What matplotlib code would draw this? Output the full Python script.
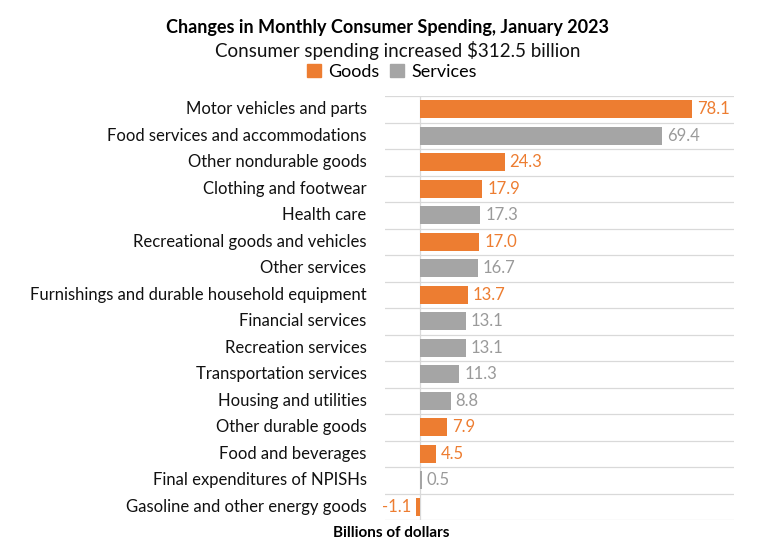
import matplotlib
matplotlib.use("Agg")
import matplotlib.pyplot as plt
from matplotlib.patches import Patch

categories = [
    "Motor vehicles and parts",
    "Food services and accommodations",
    "Other nondurable goods",
    "Clothing and footwear",
    "Health care",
    "Recreational goods and vehicles",
    "Other services",
    "Furnishings and durable household equipment",
    "Financial services",
    "Recreation services",
    "Transportation services",
    "Housing and utilities",
    "Other durable goods",
    "Food and beverages",
    "Final expenditures of NPISHs",
    "Gasoline and other energy goods",
]
values = [78.1, 69.4, 24.3, 17.9, 17.3, 17.0, 16.7, 13.7, 13.1, 13.1, 11.3, 8.8, 7.9, 4.5, 0.5, -1.1]
kinds = ["Goods", "Services", "Goods", "Goods", "Services", "Goods", "Services", "Goods",
         "Services", "Services", "Services", "Services", "Goods", "Goods", "Services", "Goods"]

colors = {"Goods": "#ED7D31", "Services": "#A5A5A5"}
label_colors = {"Goods": "#ED7D31", "Services": "#9A9A9A"}

plt.rcParams['font.family'] = ['Lato', 'DejaVu Sans']

fig = plt.figure(figsize=(7.6, 5.42), dpi=100)
ax = fig.add_axes([385/760, 1 - 520/542, (734-385)/760, (520-96)/542])

n = len(categories)
ys = list(range(n))
ax.barh(ys, values, height=0.68, color=[colors[k] for k in kinds], zorder=3)
ax.set_ylim(n - 0.5, -0.5)
ax.set_xlim(-10, 90)

for y, v, k in zip(ys, values, kinds):
    if v >= 0:
        ax.text(v + 1.4, y, f"{v:.1f}", va="center", ha="left", fontsize=12,
                color=label_colors[k])
    else:
        ax.text(v - 1.4, y, f"{v:.1f}", va="center", ha="right", fontsize=12,
                color=label_colors[k])

for b in range(n + 1):
    ax.axhline(b - 0.5, color="#D9D9D9", lw=0.9, zorder=1)
ax.axvline(0, color="#D9D9D9", lw=0.9, zorder=1)

for s in ax.spines.values():
    s.set_visible(False)
ax.set_xticks([])
ax.set_yticks([])

for y, c in zip(ys, categories):
    ax.text(-15.3, y, c, ha="right", va="center", fontsize=12, color="#111111")

fig.text(388/760, 1 - 28/542, "Changes in Monthly Consumer Spending, January 2023",
         ha="center", va="center", fontsize=13, fontweight="bold", color="#000000")
fig.text(398/760, 1 - 50/542, "Consumer spending increased $312.5 billion",
         ha="center", va="center", fontsize=13.5, color="#111111")
fig.legend(handles=[Patch(color=colors["Goods"], label="Goods"),
                    Patch(color=colors["Services"], label="Services")],
           loc="center", bbox_to_anchor=(392/760, 1 - 72/542), ncol=2, frameon=False,
           fontsize=13, handlelength=0.75, handleheight=0.75, handletextpad=0.4,
           columnspacing=0.6, borderaxespad=0)
fig.text(391/760, 1 - 533/542, "Billions of dollars", ha="center", va="center",
         fontsize=11, fontweight="bold", color="#000000")

fig.savefig("out.png", dpi=100, facecolor="white")
